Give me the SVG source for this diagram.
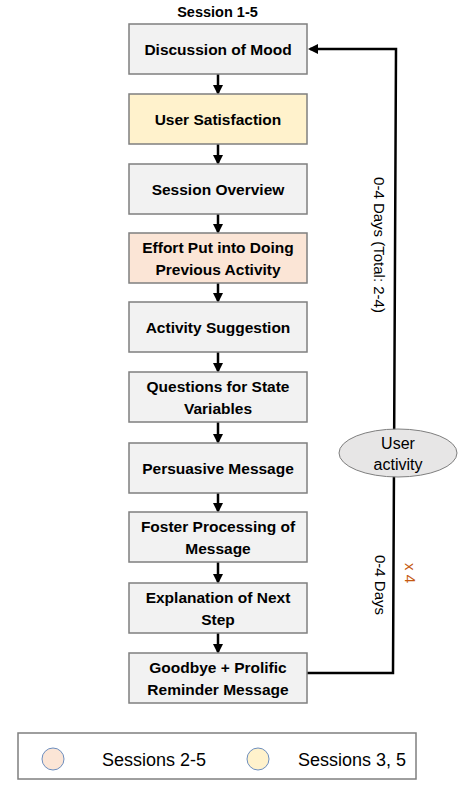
<svg xmlns="http://www.w3.org/2000/svg" width="472" height="797" viewBox="0 0 472 797">
<style>
.box{fill:#f2f2f2;stroke:#7f7f7f;stroke-width:1.5}
.yel{fill:#fff2cc}
.pink{fill:#fbe5d6}
.t{font-family:"Liberation Sans",Arial,sans-serif;font-weight:bold;font-size:15.5px;fill:#000;text-anchor:middle}
.r{font-family:"Liberation Sans",Arial,sans-serif;font-size:15px;fill:#000;text-anchor:middle}
.lg{font-family:"Liberation Sans",Arial,sans-serif;font-size:18px;fill:#000}
.c{stroke:#000;stroke-width:2.5;fill:none}
</style>
<defs>
<marker id="ah" markerWidth="4" markerHeight="4" refX="3.2" refY="2" orient="auto" markerUnits="strokeWidth">
<path d="M0,0 L4,2 L0,4 Z" fill="#000"/>
</marker>
</defs>
<text class="t" x="217.5" y="17" style="font-size:14.5px">Session 1-5</text>
<g id="connectors">
<line class="c" x1="218" y1="74" x2="218" y2="93" marker-end="url(#ah)"/>
<line class="c" x1="218" y1="144" x2="218" y2="163" marker-end="url(#ah)"/>
<line class="c" x1="218" y1="214" x2="218" y2="232" marker-end="url(#ah)"/>
<line class="c" x1="218" y1="283" x2="218" y2="301" marker-end="url(#ah)"/>
<line class="c" x1="218" y1="352" x2="218" y2="371" marker-end="url(#ah)"/>
<line class="c" x1="218" y1="422" x2="218" y2="442" marker-end="url(#ah)"/>
<line class="c" x1="218" y1="493" x2="218" y2="511" marker-end="url(#ah)"/>
<line class="c" x1="218" y1="562" x2="218" y2="582" marker-end="url(#ah)"/>
<line class="c" x1="218" y1="633" x2="218" y2="652" marker-end="url(#ah)"/>
<path class="c" d="M307,673 H393 L396,49 H310" marker-end="url(#ah)"/>
</g>
<g id="n1"><rect class="box" x="129" y="24" width="178" height="50"/><text class="t" x="218" y="54.5">Discussion of Mood</text></g>
<g id="n2"><rect class="box yel" x="129" y="94" width="178" height="50"/><text class="t" x="218" y="124.5">User Satisfaction</text></g>
<g id="n3"><rect class="box" x="129" y="164" width="178" height="50"/><text class="t" x="218" y="194.5">Session Overview</text></g>
<g id="n4"><rect class="box pink" x="129" y="233" width="178" height="50"/><text class="t" x="218" y="252.5">Effort Put into Doing</text><text class="t" x="218" y="274.5">Previous Activity</text></g>
<g id="n5"><rect class="box" x="129" y="302" width="178" height="50"/><text class="t" x="218" y="332.5">Activity Suggestion</text></g>
<g id="n6"><rect class="box" x="129" y="372" width="178" height="50"/><text class="t" x="218" y="391.5">Questions for State</text><text class="t" x="218" y="413.5">Variables</text></g>
<g id="n7"><rect class="box" x="129" y="443" width="178" height="50"/><text class="t" x="218" y="473.5">Persuasive Message</text></g>
<g id="n8"><rect class="box" x="129" y="512" width="178" height="50"/><text class="t" x="218" y="531.5">Foster Processing of</text><text class="t" x="218" y="553.5">Message</text></g>
<g id="n9"><rect class="box" x="129" y="583" width="178" height="50"/><text class="t" x="218" y="602.5">Explanation of Next</text><text class="t" x="218" y="624.5">Step</text></g>
<g id="n10"><rect class="box" x="129" y="653" width="178" height="50"/><text class="t" x="218" y="672.5">Goodbye + Prolific</text><text class="t" x="218" y="694.5">Reminder Message</text></g>
<g id="n11"><ellipse cx="398" cy="453" rx="59" ry="24" fill="#e7e6e6" stroke="#7f7f7f" stroke-width="1"/><text class="r" x="398" y="449" style="font-size:16px">User</text><text class="r" x="398" y="470" style="font-size:16px">activity</text></g>
<text class="r" transform="translate(379,245) rotate(90)" y="5">0-4 Days (Total: 2-4)</text>
<text class="r" transform="translate(380,585) rotate(90)" y="5">0-4 Days</text>
<text class="r" transform="translate(410,573) rotate(90)" y="5" style="fill:#c55a11">x 4</text>
<g id="legend">
<rect x="18" y="733" width="398" height="46" fill="#fff" stroke="#7f7f7f" stroke-width="1.5"/>
<circle cx="53" cy="759" r="11" fill="#fbe5d6" stroke="#6c8ebf" stroke-width="1"/>
<text class="lg" x="102" y="766">Sessions 2-5</text>
<circle cx="258" cy="759" r="11" fill="#fff2cc" stroke="#6c8ebf" stroke-width="1"/>
<text class="lg" x="298" y="766">Sessions 3, 5</text>
</g>
</svg>
